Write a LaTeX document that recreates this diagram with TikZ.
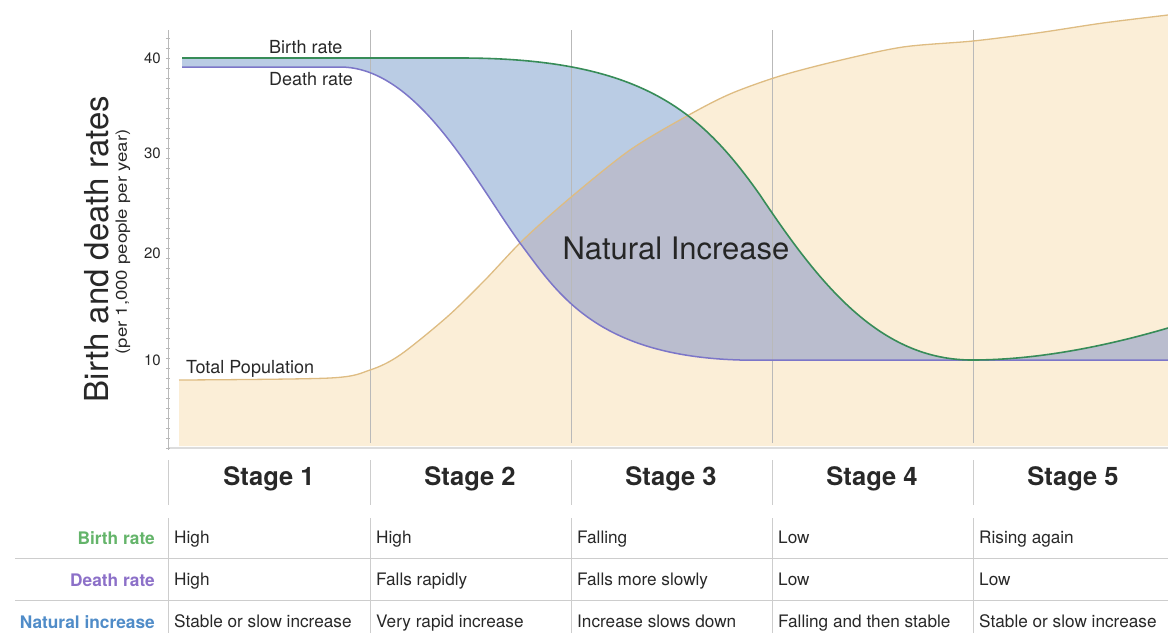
\documentclass[tikz,border=0pt]{standalone}
\usepackage{fontspec}
\usepackage{graphicx}
\setmainfont{TeX Gyre Heros}
\definecolor{tanfill}{RGB}{251,238,215}
\definecolor{tanline}{RGB}{222,188,130}
\definecolor{bluefill}{RGB}{186,204,228}
\definecolor{overlapfill}{RGB}{186,189,206}
\definecolor{greenline}{RGB}{55,140,88}
\definecolor{purpleline}{RGB}{124,118,200}
\definecolor{gridgray}{RGB}{185,185,185}
\definecolor{tablegray}{RGB}{205,205,205}
\definecolor{txt}{RGB}{40,40,40}
\definecolor{lblgreen}{RGB}{100,180,106}
\definecolor{lblpurple}{RGB}{140,112,200}
\definecolor{lblblue}{RGB}{80,140,200}
\tikzset{
  curvelabel/.style={font=\fontsize{18}{21}\selectfont, text=txt, inner sep=0pt},
  ticklabel/.style={font=\fontsize{15}{18}\selectfont, text=txt, inner sep=0pt, anchor=east},
  stagehead/.style={font=\fontsize{25.5}{29}\selectfont\bfseries, text=txt, inner sep=0pt},
  rowlabel/.style={font=\fontsize{17.3}{20}\selectfont\bfseries, inner sep=0pt, anchor=base east},
  cell/.style={font=\fontsize{17.2}{20}\selectfont, text=txt, inner sep=0pt, anchor=base west},
  stageline/.style={draw=gridgray, line width=1pt},
  tableline/.style={draw=tablegray, line width=1pt},
}
\begin{document}
\begin{tikzpicture}[x=1pt,y=-1pt]
\useasboundingbox (0,0) rectangle (1168,633);
% population area
\fill[tanfill] (179,446) -- plot[smooth] coordinates {(179,380) (330,378) (370,370) (400,355) (447,317) (485,280) (523,240) (570,198) (630,150) (687,116) (730,94) (780,76) (837,61) (903,47) (973,41) (1037,33) (1103,23) (1168,15)} -- (1168,446) -- cycle;
% natural increase area
\fill[bluefill] (182,58) -- (460,58) .. controls (640,58) and (700,110) .. (760,195) .. controls (820,285) and (880,360) .. (972,360) .. controls (1040,360) and (1110,345) .. (1168,328) -- (1168,360) -- (740,360) .. controls (600,356) and (560,297) .. (523,247) .. controls (478,187) and (420,67) .. (340,67) -- (182,67) -- cycle;
\begin{scope}
\clip (179,446) -- plot[smooth] coordinates {(179,380) (330,378) (370,370) (400,355) (447,317) (485,280) (523,240) (570,198) (630,150) (687,116) (730,94) (780,76) (837,61) (903,47) (973,41) (1037,33) (1103,23) (1168,15)} -- (1168,446) -- cycle;
\fill[overlapfill] (182,58) -- (460,58) .. controls (640,58) and (700,110) .. (760,195) .. controls (820,285) and (880,360) .. (972,360) .. controls (1040,360) and (1110,345) .. (1168,328) -- (1168,360) -- (740,360) .. controls (600,356) and (560,297) .. (523,247) .. controls (478,187) and (420,67) .. (340,67) -- (182,67) -- cycle;
\end{scope}
% stage lines
\foreach \sx in {370,571,772,973} {\draw[stageline] (\sx,30) -- (\sx,443);}
% bottom line of chart
\draw[draw=tablegray!70, line width=2pt] (168,448) -- (1168,448);
% curves
\draw[tanline, line width=1.3pt] plot[smooth] coordinates {(179,380) (330,378) (370,370) (400,355) (447,317) (485,280) (523,240) (570,198) (630,150) (687,116) (730,94) (780,76) (837,61) (903,47) (973,41) (1037,33) (1103,23) (1168,15)};
\draw[purpleline, line width=1.5pt] (182,67) -- (340,67) .. controls (420,67) and (478,187) .. (523,247) .. controls (560,297) and (600,356) .. (740,360) -- (1168,360);
\draw[greenline, line width=1.6pt] (182,58) -- (460,58) .. controls (640,58) and (700,110) .. (760,195) .. controls (820,285) and (880,360) .. (972,360) .. controls (1040,360) and (1110,345) .. (1168,328);
% y axis
\draw[gridgray, line width=0.8pt] (168,30) -- (168,450);
\foreach \ty in {38,48,...,448} {\draw[gridgray, line width=0.6pt] (166,\ty) -- (170,\ty);}
\node[ticklabel] (t40) at (161,58) {40};
\node[ticklabel] (t30) at (161,153) {30};
\node[ticklabel] (t20) at (161,253) {20};
\node[ticklabel] (t10) at (161,360) {10};
\node[font=\fontsize{33}{36}\selectfont, text=txt, rotate=90, inner sep=0pt] (ytitle) at (97,249) {Birth and death rates};
\node[font=\fontsize{15.5}{18}\selectfont, text=txt, rotate=90, inner sep=0pt] (ysub) at (123,242) {\scalebox{1.2}[1]{(per 1,000 people per year)}};
% curve labels
\node[curvelabel, anchor=west] (lbirth) at (269,47) {Birth rate};
\node[curvelabel, anchor=west] (ldeath) at (269,79) {Death rate};
\node[curvelabel, anchor=west] (lpop) at (186,369) {Total Population};
\node[font=\fontsize{31}{35}\selectfont, text=black!85, inner sep=0pt] (ni) at (676,248) {Natural Increase};
% table
\foreach \sx in {168,370,571,772,973} {
  \draw[tableline] (\sx,460) -- (\sx,505);
  \draw[tableline] (\sx,518) -- (\sx,633);
}
\draw[tableline] (15,558) -- (1168,558);
\draw[tableline] (15,600) -- (1168,600);
\node[stagehead] (s1) at (269,479) {Stage 1};
\node[stagehead] (s2) at (470,479) {Stage 2};
\node[stagehead] (s3) at (671,479) {Stage 3};
\node[stagehead] (s4) at (872,479) {Stage 4};
\node[stagehead] (s5) at (1073,479) {Stage 5};
\node[rowlabel, text=lblgreen] (rb) at (155,544) {Birth rate};
\node[rowlabel, text=lblpurple] (rd) at (155,586) {Death rate};
\node[rowlabel, text=lblblue] (rn) at (155,628) {Natural increase};
\node[cell] (b1) at (174,543) {High};
\node[cell] (b2) at (376,543) {High};
\node[cell] (b3) at (577,543) {Falling};
\node[cell] (b4) at (778,543) {Low};
\node[cell] (b5) at (979,543) {Rising again};
\node[cell] (d1) at (174,585) {High};
\node[cell] (d2) at (376,585) {Falls rapidly};
\node[cell] (d3) at (577,585) {Falls more slowly};
\node[cell] (d4) at (778,585) {Low};
\node[cell] (d5) at (979,585) {Low};
\node[cell] (n1) at (174,627) {Stable or slow increase};
\node[cell] (n2) at (376,627) {Very rapid increase};
\node[cell] (n3) at (577,627) {Increase slows down};
\node[cell] (n4) at (778,627) {Falling and then stable};
\node[cell] (n5) at (979,627) {Stable or slow increase};
\end{tikzpicture}
\end{document}
